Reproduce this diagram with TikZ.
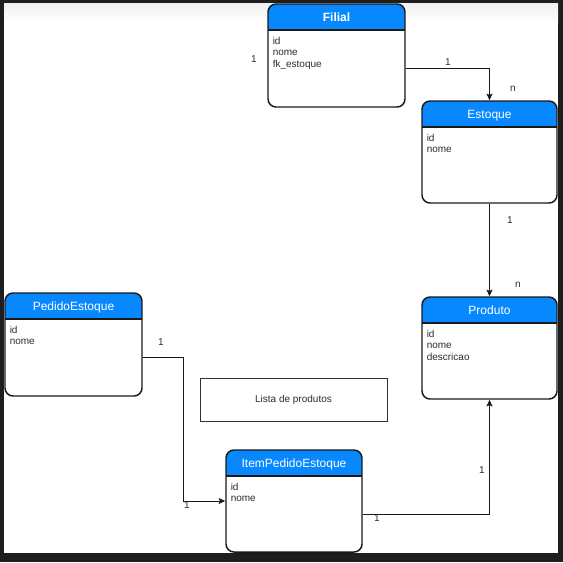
\documentclass[tikz,border=0pt]{standalone}
\usepackage{fontspec}
\setmainfont{Liberation Sans}
\usetikzlibrary{arrows.meta,fit,calc}
\definecolor{hdr}{RGB}{8,136,255}
\definecolor{framecol}{RGB}{30,30,30}
\definecolor{txt}{RGB}{45,45,45}
\tikzset{
  ent/.style={draw=black!90, line width=1.1pt, rounded corners=6pt, inner sep=0pt},
  ttl/.style={anchor=base, text=white, font=\fontsize{9pt}{10.8pt}\selectfont, inner sep=0pt},
  fields/.style={anchor=north west, align=left, text=txt, font=\fontsize{7.5pt}{8.6pt}\selectfont, inner sep=0pt},
  lbl/.style={text=txt, font=\fontsize{7.5pt}{9pt}\selectfont, inner sep=0pt},
  conn/.style={draw=black!90, line width=0.75pt},
  arr/.style={conn, -{Stealth[length=5pt,width=4.5pt,inset=1pt]}},
}
\newcommand\entity[7]{%
  \begin{scope}
    \clip[rounded corners=6pt] (#2,#3) rectangle (#4,#5);
    \fill[hdr] (#2,#3) rectangle (#4,#6);
  \end{scope}
  \draw[black!90, line width=0.8pt] (#2,#6) -- (#4,#6);
  \node[ent, fit={(#2,#3) (#4,#5)}] (#1) {};
  \node[ttl] (#1T) at ({(#2+#4)/2},{#3+17.5}) {#7};
}
\begin{document}
\begin{tikzpicture}[x=0.75pt,y=-0.75pt]
\useasboundingbox (0,0) rectangle (563,562);
\fill[framecol] (0,0) rectangle (563,562);
\fill[white] (4,3) rectangle (558,553);
\shade[top color=black!6, bottom color=white] (4,3) rectangle (558,22);

% entities
\entity{filial}{268}{4}{405}{107}{30}{\textbf{Filial}}
\node[fields] (filialF) at (272.5,36.7) {id\\nome\\fk\_estoque};

\entity{estoque}{422}{101}{557}{203}{127}{Estoque}
\node[fields] (estoqueF) at (426.5,133.7) {id\\nome};

\entity{pedido}{5}{293}{142}{396}{319}{PedidoEstoque}
\node[fields] (pedidoF) at (9.5,325.7) {id\\nome};

\entity{produto}{422}{297}{557}{399}{323}{Produto}
\node[fields] (produtoF) at (426.5,329.7) {id\\nome\\descricao};

\entity{item}{226}{450}{362}{552}{476}{ItemPedidoEstoque}
\node[fields] (itemF) at (230.5,482.7) {id\\nome};

% note box
\node[draw=black!80, line width=0.75pt, inner sep=0pt, fit={(200,378) (387,421)}] (lista) {};
\node[lbl] (listaT) at (lista.center) {Lista de produtos};

% connectors
\coordinate (c1) at (0,68);
\draw[arr] (filial.east |- c1) -| (estoque.north);
\draw[arr] (estoque.south) -- (produto.north);
\coordinate (c2) at (183,357);
\draw[arr] (pedido.east |- c2) -- (c2) |- (item.west);
\coordinate (c3) at (0,514);
\draw[arr] (item.east |- c3) -| (produto.south);

% labels
\node[lbl] (l1) at (254,59) {1};
\node[lbl] (l2) at (448,62) {1};
\node[lbl] (l3) at (513,89) {n};
\node[lbl] (l4) at (510,220) {1};
\node[lbl] (l5) at (518,285) {n};
\node[lbl] (l6) at (161,342) {1};
\node[lbl] (l7) at (187,505) {1};
\node[lbl] (l8) at (482,470) {1};
\node[lbl] (l9) at (377,518) {1};
\end{tikzpicture}
\end{document}
